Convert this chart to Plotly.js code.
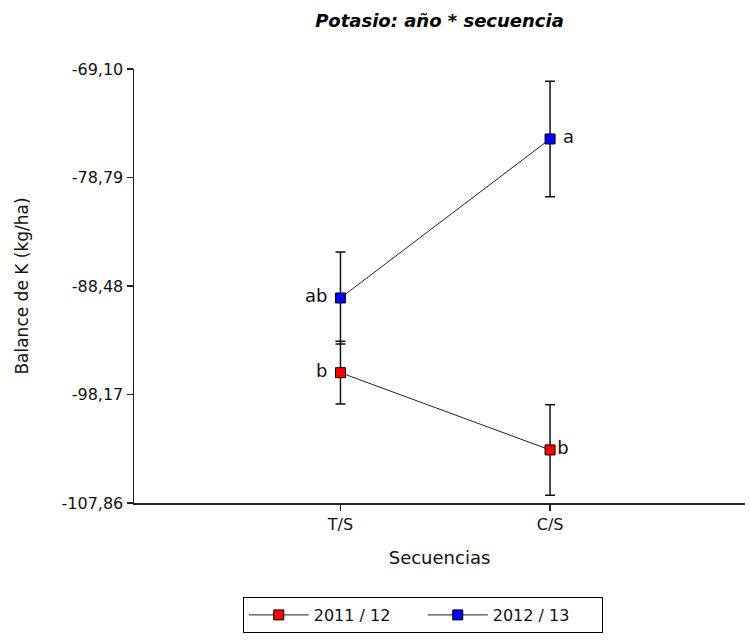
<!DOCTYPE html>
<html>
<head>
<meta charset="utf-8">
<script src="https://cdn.plot.ly/plotly-3.0.1.min.js"></script>
<style>html,body{margin:0;padding:0;background:#fff;}#chart{width:750px;height:640px;}</style>
</head>
<body>
<div id="chart"></div>
<script>
const categories = ['T/S', 'C/S'];
const seriesNames = ['2011 / 12', '2012 / 13'];
const y2011 = [-96.22, -103.12];
const err2011 = [2.80, 4.04];
const lab2011 = ['b ', 'b'];
const y2012 = [-89.55, -75.35];
const err2012 = [4.11, 5.15];
const lab2012 = ['ab ', ' a'];
const tickVals = [-107.86, -98.17, -88.48, -78.79, -69.10];
const tickText = ['-107,86', '-98,17', '-88,48', '-78,79', '-69,10'];

const xIdx = categories.map((c, i) => i);
const FONT = 'DejaVu Sans, Liberation Sans, Arial, sans-serif';

function series(name, ys, errs, labs, color) {
  return {
    type: 'scatter', mode: 'lines+markers+text', name: name,
    x: xIdx, y: ys,
    text: labs, textposition: ['middle left', 'middle right'],
    textfont: {family: FONT, size: 18, color: '#111'},
    line: {color: '#222', width: 1},
    marker: {symbol: 'square', size: 10, color: color, line: {color: '#000', width: 1}},
    error_y: {type: 'data', array: errs, visible: true, color: '#111', thickness: 1.5, width: 5},
    cliponaxis: false
  };
}

const data = [
  series(seriesNames[0], y2011, err2011, lab2011, '#ff0000'),
  series(seriesNames[1], y2012, err2012, lab2012, '#0000ff')
];

const layout = {
  width: 750, height: 640,
  margin: {l: 134, r: 5, t: 69, b: 137},
  paper_bgcolor: '#fff', plot_bgcolor: '#fff',
  font: {family: FONT, color: '#111', size: 15},
  title: {text: '<b><i>Potasio: año * secuencia</i></b>', x: 0.5, xref: 'paper', y: 0.968, yanchor: 'middle',
          font: {family: FONT, size: 18, color: '#000'}},
  showlegend: true,
  legend: {orientation: 'h', x: 0.178, xanchor: 'left', y: -0.2166, yanchor: 'top',
           bordercolor: '#000', borderwidth: 1, bgcolor: '#fff',
           font: {family: FONT, size: 16, color: '#111'}, entrywidth: 104, itemwidth: 60},
  xaxis: {
    range: [-0.985, 1.93], tickvals: xIdx, ticktext: categories,
    showline: true, linecolor: '#222', linewidth: 1.5, showgrid: false, zeroline: false,
    ticks: 'outside', ticklen: 6, tickcolor: '#222', tickwidth: 1.5,
    tickfont: {family: FONT, size: 16, color: '#111'},
    title: {text: 'Secuencias', font: {family: FONT, size: 18, color: '#111'}, standoff: 18}
  },
  yaxis: {
    range: [-107.86, -69.10], tickvals: tickVals, ticktext: tickText,
    showline: true, linecolor: '#222', linewidth: 1.5, showgrid: false, zeroline: false,
    ticks: 'outside', ticklen: 6, tickcolor: '#222', tickwidth: 1.5,
    tickfont: {family: FONT, size: 16, color: '#111'},
    title: {text: 'Balance de K (kg/ha)', font: {family: FONT, size: 17, color: '#111'}, standoff: 28}
  }
};

Plotly.newPlot('chart', data, layout, {displayModeBar: false, staticPlot: true});
</script>
</body>
</html>
